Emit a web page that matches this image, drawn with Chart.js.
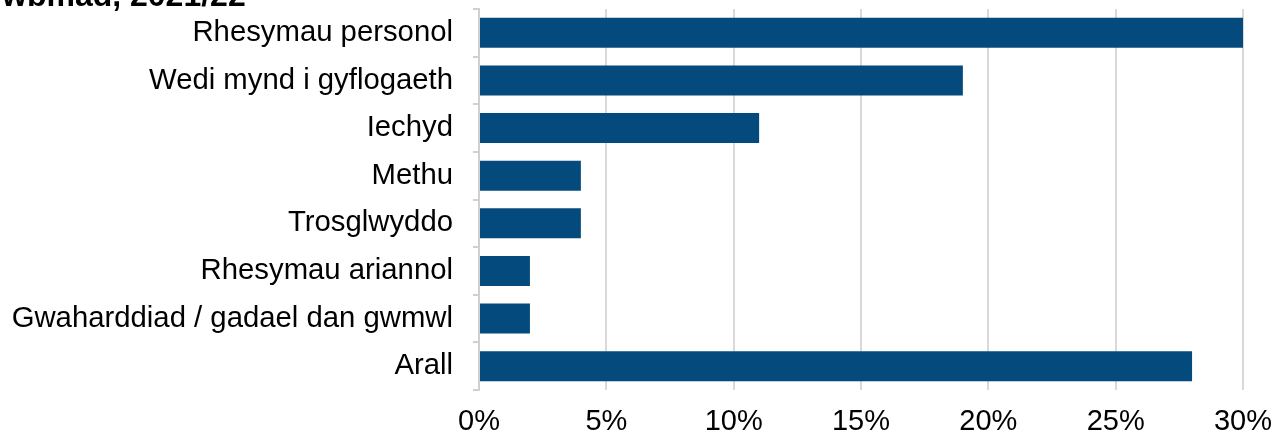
<!DOCTYPE html>
<html>
<head>
<meta charset="utf-8">
<script src="https://cdn.jsdelivr.net/npm/chart.js@4.4.0/dist/chart.umd.min.js"></script>
<style>
html,body{margin:0;padding:0;background:#fff;overflow:hidden;}
canvas{display:block;}
</style>
</head>
<body>
<canvas id="c" width="1276" height="436"></canvas>
<script>
const titleText = "wbmad, 2021/22";
const categories = ["Rhesymau personol","Wedi mynd i gyflogaeth","Iechyd","Methu","Trosglwyddo","Rhesymau ariannol","Gwaharddiad / gadael dan gwmwl","Arall"];
const values = [30, 19, 11, 4, 4, 2, 2, 28];
const xTicks = [0, 5, 10, 15, 20, 25, 30];

const FONT = "'Liberation Sans', Arial, sans-serif";
const titlePlugin = {
  id: 'cutTitle',
  afterDraw(chart) {
    const ctx = chart.ctx;
    ctx.save();
    ctx.font = "bold 32px " + FONT;
    ctx.fillStyle = "#000";
    ctx.textAlign = "left";
    ctx.textBaseline = "alphabetic";
    ctx.fillText(titleText, 2, 6);
    ctx.restore();
  }
};

new Chart(document.getElementById('c'), {
  type: 'bar',
  data: {
    labels: categories,
    datasets: [{
      data: values,
      backgroundColor: '#044a7c',
      borderWidth: 0,
      categoryPercentage: 1,
      barPercentage: 0.63
    }]
  },
  options: {
    indexAxis: 'y',
    responsive: false,
    animation: false,
    devicePixelRatio: 1,
    layout: { padding: { top: 9, right: 33, left: 0, bottom: 0 } },
    plugins: { legend: { display: false }, tooltip: { enabled: false }, title: { display: false } },
    scales: {
      x: {
        min: 0, max: 30,
        afterBuildTicks(scale) { scale.ticks = xTicks.map(v => ({ value: v })); },
        afterFit(scale) { scale.height = 46; scale.paddingLeft = 0; scale.paddingRight = 0; },
        grid: { color: '#d9d9d9', lineWidth: 2, drawTicks: false },
        border: { display: false },
        ticks: {
          padding: 15,
          color: '#000',
          font: { family: FONT, size: 29 },
          callback: v => v + '%'
        }
      },
      y: {
        afterFit(scale) { scale.width = 479; scale.paddingTop = 0; scale.paddingBottom = 0; },
        grid: { drawOnChartArea: false, drawTicks: true, tickLength: 6, color: '#d0d0d0', lineWidth: 2, offset: true },
        border: { display: true, color: '#d0d0d0', width: 2 },
        ticks: {
          padding: 20,
          color: '#000',
          font: { family: FONT, size: 29.3 }
        }
      }
    }
  },
  plugins: [titlePlugin]
});
</script>
</body>
</html>
